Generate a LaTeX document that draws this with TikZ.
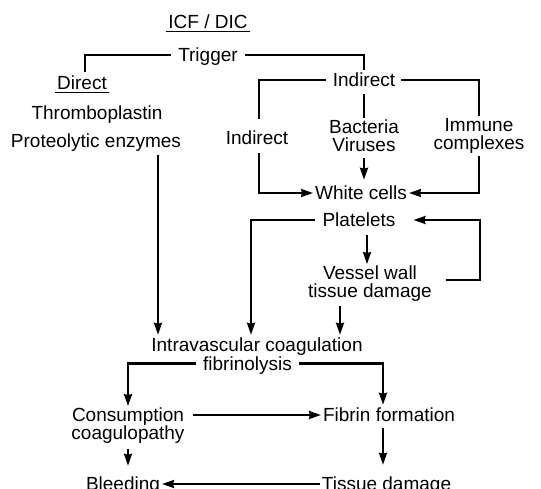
\documentclass[tikz,border=0pt]{standalone}
\usepackage{fontspec}
\setmainfont{Liberation Sans}
\usetikzlibrary{arrows.meta, positioning}

\begin{document}
\begin{tikzpicture}[x=1pt, y=-1pt, line width=2.1pt, >={Stealth[length=12pt,width=8pt,inset=1pt]},
	lbl/.style={font=\fontsize{19}{18}\selectfont, inner sep=1pt, text height=15pt, text depth=1.4pt},
	lbltwo/.style={font=\fontsize{19}{18}\selectfont, inner sep=1pt, align=center},
	hv/.style={to path={-| (\tikztotarget)}},
	vh/.style={to path={|- (\tikztotarget)}}]

		\useasboundingbox (0,0) rectangle (541,488);
		\clip (0,0) rectangle (541,488);

			\node[lbl] (icf) at (208,21.5) {ICF / DIC};
			\node[lbl] (trigger) at (208,55) {Trigger};
			\node[lbl] (direct) at (82,82.5) {Direct};
			\node[lbl] (thrombo) at (97,113) {Thromboplastin};
			\node[lbl] (prot) at (96,141) {Proteolytic enzymes};
			\node[lbl] (indtop) at (364,80) {Indirect};
			\node[lbl] (indsub) at (257,137.5) {Indirect};
			\node[lbltwo] (bact) at (364,136) {Bacteria\\Viruses};
			\node[lbltwo] (immune) at (479,136) {Immune\\complexes};
			\node[lbl] (white) at (361,193) {White cells};
			\node[lbl] (plat) at (359,220) {Platelets};
			\node[lbltwo] (vessel) at (370,284) {Vessel wall\\tissue damage};
			\node[lbl] (intra) at (257,345) {Intravascular coagulation};
			\node[lbl] (fibrinol) at (247.5,363.5) {fibrinolysis};
			\node[lbltwo] (cons) at (128,426) {Consumption\\coagulopathy};
			\node[lbl] (fform) at (389,415) {Fibrin formation};
			\node[lbl] (bleed) at (123,484) {Bleeding};
			\node[lbl] (tissue) at (386.5,484) {Tissue damage};

			\coordinate (protx) at ([xshift=62pt]prot.south);
			\coordinate (platx) at ([xshift=8pt]plat.south);
			\coordinate (vesx) at ([xshift=-30pt]vessel.south);
			\coordinate (ffx) at ([xshift=-6pt]fform.south);
			\coordinate (loopc) at (480,220);

			\draw[line width=1.3pt] (icf.south west) -- (icf.south east);
			\draw[line width=1.3pt] (direct.south west) -- (direct.south east);

				\path
					(trigger.west) edge[hv, shorten <=5pt] ([xshift=3pt]direct.north)
					(trigger.east) edge[hv, shorten <=5pt] (indtop.north)

					(indtop.west) edge[hv, shorten <=5pt, shorten >=8pt] ([xshift=2pt]indsub.north)
					(indtop.south) edge[shorten <=4pt] (bact.north)
					(indtop.east) edge[hv, shorten <=4pt] (immune.north)

					([xshift=2pt]indsub.south) edge[vh, ->, shorten <=5pt] (white.west)
					(bact.south) edge[->, shorten <=4pt, shorten >=3pt] (bact.south |- white.north)
					(immune.south) edge[vh, ->] (white.east)

					(protx) edge[->, shorten <=4pt] (protx |- intra.north)
					(plat.west) edge[hv, ->, shorten <=6pt] ([xshift=-6pt]intra.north)
					(platx) edge[->, shorten <=5pt] (platx |- vessel.north)
					(vesx) edge[->, shorten <=2pt] (vesx |- intra.north)

					(fibrinol.west) edge[hv, ->, shorten <=5pt] (cons.north)
					(fibrinol.east) edge[hv, ->, shorten <=5pt] ([xshift=-6pt]fform.north)
					(cons.east |- fform.west) edge[->, shorten <=6pt] (fform.west)

					(ffx) edge[->, shorten <=3pt, shorten >=9pt] (ffx |- tissue.north)
					(cons.south) edge[->, shorten <=3pt, shorten >=8pt] (cons.south |- bleed.north)
					(tissue.west) edge[->] (bleed.east);

				\draw[->, shorten <=12pt, shorten >=16pt] ([yshift=4pt]vessel.east) -| (loopc) -- (plat.east);

		\end{tikzpicture}
\end{document}
